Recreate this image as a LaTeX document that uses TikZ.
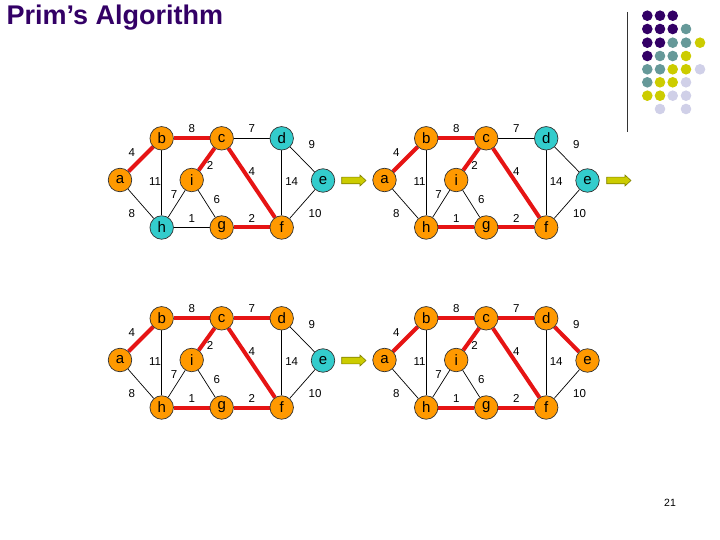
\documentclass[tikz,border=0pt]{standalone}
\usepackage{fontspec}
\setmainfont{Liberation Sans}
\pgfdeclarelayer{background}
\pgfsetlayers{background,main}
\definecolor{orng}{RGB}{255,153,0}
\definecolor{tealn}{RGB}{51,204,204}
\definecolor{redge}{RGB}{230,20,20}
\definecolor{arrfill}{RGB}{204,204,0}
\definecolor{arrdraw}{RGB}{128,128,0}
\definecolor{titlec}{RGB}{51,0,102}
\definecolor{dpurple}{RGB}{51,0,102}
\definecolor{dteal}{RGB}{102,153,153}
\definecolor{dyellow}{RGB}{204,204,0}
\definecolor{dlav}{RGB}{208,208,232}
\tikzset{
  vtx/.style={circle,draw=black!80,line width=0.7pt,minimum size=23.5pt,inner sep=0pt,font=\fontsize{15}{15}\selectfont},
  lbl/.style={inner sep=0pt,font=\fontsize{11.5}{11.5}\selectfont},
  thin edge/.style={draw=black,line width=0.7pt},
  red edge/.style={draw=redge,line width=4pt},
  blockarrow/.style={fill=arrfill,draw=arrdraw,line width=0.6pt}
}
\newcommand{\primgraph}[7]{%
\begin{scope}[shift={(#2,#3)}]
  \node[vtx,fill=orng] (#1a) at (120,180) {a};
  \node[vtx,fill=orng] (#1b) at (161.7,138.3) {b};
  \node[vtx,fill=orng] (#1c) at (221.7,138.3) {c};
  \node[vtx,fill=#4] (#1d) at (281.7,138.3) {d};
  \node[vtx,fill=orng] (#1i) at (191.7,180) {i};
  \node[vtx,fill=#5] (#1e) at (323,180.5) {e};
  \node[vtx,fill=#6] (#1h) at (161.7,227.5) {h};
  \node[vtx,fill=orng] (#1g) at (221.7,227.5) {g};
  \node[vtx,fill=orng] (#1f) at (281.7,227.5) {f};
  \begin{pgfonlayer}{background}
    \foreach \u/\v in {a/b,b/c,c/d,d/e,c/i,c/f,b/h,d/f,i/h,i/g,a/h,h/g,g/f,e/f}
      \draw[thin edge] (#1\u) -- (#1\v);
    \foreach \u/\v in {#7}
      \draw[red edge] (#1\u) -- (#1\v);
  \end{pgfonlayer}
  \node[lbl] (#1lab) at (131.7,152.7) {4};
  \node[lbl] (#1lbc) at (191.7,128.3) {8};
  \node[lbl] (#1lcd) at (251.7,128.3) {7};
  \node[lbl] (#1lde) at (311.7,145) {9};
  \node[lbl] (#1lci) at (210,165) {2};
  \node[lbl] (#1lcf) at (251.7,171.7) {4};
  \node[lbl] (#1lbh) at (155,181.7) {11};
  \node[lbl] (#1ldf) at (291.7,181.7) {14};
  \node[lbl] (#1lih) at (174,195) {7};
  \node[lbl] (#1lig) at (216.7,200) {6};
  \node[lbl] (#1lah) at (131.7,213.3) {8};
  \node[lbl] (#1lhg) at (191.7,218.3) {1};
  \node[lbl] (#1lgf) at (251.7,218.3) {2};
  \node[lbl] (#1lef) at (315,213.3) {10};
\end{scope}}
\newcommand{\blockarr}[2]{%
  \filldraw[blockarrow,shift={(#1,#2)}] (0,-3.3) -- (18.3,-3.3) -- (18.3,-5.5) -- (24.3,0) -- (18.3,5.5) -- (18.3,3.3) -- (0,3.3) -- cycle;}
\begin{document}
\begin{tikzpicture}[x=1pt,y=-1pt]
\useasboundingbox (0,0) rectangle (720,540);
\node[anchor=base west,inner sep=0pt,text=titlec,font=\fontsize{27}{27}\selectfont\bfseries] (title) at (6.5,25) {Prim’s Algorithm};
\draw[line width=1pt,black!80] (627.3,12) -- (627.3,132);
% decorative dots
\foreach \x/\y/\c in {
 647.3/15.7/dpurple,660/15.7/dpurple,672.7/15.7/dpurple,
 647.3/29/dpurple,660/29/dpurple,672.7/29/dpurple,686/29/dteal,
 647.3/42.7/dpurple,660/42.7/dpurple,672.7/42.7/dteal,686/42.7/dteal,700/42.7/dyellow,
 647.3/56/dpurple,660/56/dteal,672.7/56/dteal,686/56/dyellow,
 647.3/69.3/dteal,660/69.3/dteal,672.7/69.3/dyellow,686/69.3/dyellow,700/69.3/dlav,
 647.3/82.3/dteal,660/82.3/dyellow,672.7/82.3/dyellow,686/82.3/dlav,
 647.3/95.7/dyellow,660/95.7/dyellow,672.7/95.7/dlav,686/95.7/dlav,
 660/109/dlav,686/109/dlav}
  \fill[\c] (\x,\y) circle (5.3);
\primgraph{p}{0}{0}{tealn}{tealn}{tealn}{a/b,b/c,c/i,c/f,g/f}
\primgraph{q}{264.5}{0}{tealn}{tealn}{orng}{a/b,b/c,c/i,c/f,g/f,h/g}
\primgraph{r}{0}{180}{orng}{tealn}{orng}{a/b,b/c,c/i,c/f,g/f,h/g,c/d}
\primgraph{s}{264.5}{180}{orng}{orng}{orng}{a/b,b/c,c/i,c/f,g/f,h/g,c/d,d/e}
\blockarr{341.7}{180.5}
\blockarr{606.7}{180.5}
\blockarr{341.7}{360.5}
\node[inner sep=0pt,font=\fontsize{10.5}{10.5}\selectfont] (pagenum) at (670,502.7) {21};
\end{tikzpicture}
\end{document}
